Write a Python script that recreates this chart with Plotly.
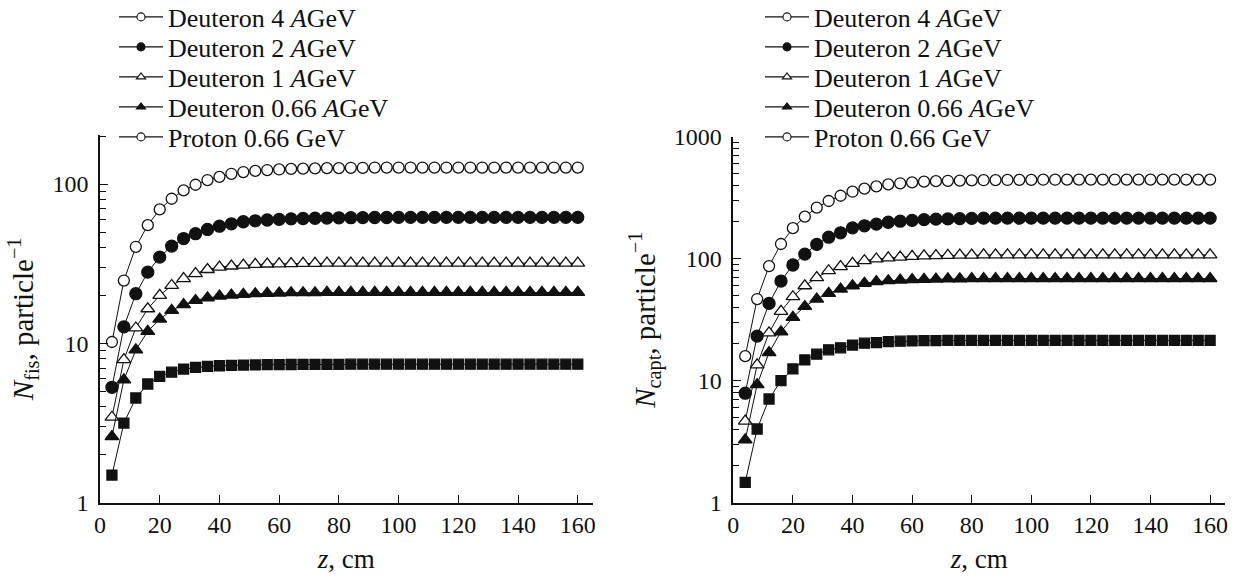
import plotly.graph_objects as go

z = [4 * i for i in range(1, 41)]

# Left panel: N_fis, particle^-1
fis_d4 = [10.2, 24.8, 40.4, 55.2, 69.3, 80.9, 91.2, 99, 106, 111, 116, 119, 121, 122.5, 123.5, 124.5,
          125, 125.5, 126, 126, 126.5, 126.5, 127, 127, 127, 127, 127, 127, 127, 127,
          127, 127, 127, 127, 127, 127, 127, 127, 127, 127]
fis_d2 = [5.3, 12.7, 20.5, 28, 34.8, 40.8, 45.5, 48.8, 51.9, 54.4, 56.3, 58, 58.8, 59.5, 60, 60.5,
          60.8, 61, 61.2, 61.4, 61.5, 61.6, 61.7, 61.7, 61.8, 61.8, 61.8, 61.8, 61.8, 61.8,
          61.8, 61.8, 61.8, 61.8, 61.8, 61.8, 61.8, 61.8, 61.8, 61.8]
fis_d1 = [3.44, 7.9, 12.5, 16.5, 20, 23.1, 25.5, 27.4, 29.1, 30.1, 30.6, 31, 31.3, 31.5, 31.6, 31.7,
          31.8, 31.8, 31.9, 31.9, 31.9, 31.9, 31.9, 31.9, 31.9, 31.9, 31.9, 31.9, 31.9, 31.9,
          31.9, 31.9, 31.9, 31.9, 31.9, 31.9, 31.9, 31.9, 31.9, 31.9]
fis_d066 = [2.6, 5.9, 9.1, 11.9, 14.2, 16.1, 17.5, 18.6, 19.3, 19.8, 20.1, 20.3, 20.5, 20.6, 20.7, 20.8,
            20.8, 20.8, 20.9, 20.9, 20.9, 20.9, 20.9, 20.9, 20.9, 20.9, 20.9, 20.9, 20.9, 20.9,
            20.9, 20.9, 20.9, 20.9, 20.9, 20.9, 20.9, 20.9, 20.9, 20.9]
fis_p066 = [1.49, 3.16, 4.54, 5.56, 6.2, 6.6, 6.9, 7.06, 7.17, 7.24, 7.28, 7.31, 7.33, 7.35, 7.36, 7.37,
            7.38, 7.38, 7.39, 7.39, 7.4, 7.4, 7.4, 7.4, 7.4, 7.4, 7.4, 7.4, 7.4, 7.4,
            7.4, 7.4, 7.4, 7.4, 7.4, 7.4, 7.4, 7.4, 7.4, 7.4]

# Right panel: N_capt, particle^-1
capt_d4 = [15.9, 46.7, 87, 132, 178, 221, 262, 297, 328, 354, 375, 392, 407, 415, 422, 428,
           432, 435, 437, 439, 440, 441, 442, 443, 443, 444, 444, 445, 445, 445,
           445, 445, 445, 445, 445, 445, 445, 445, 445, 445]
capt_d2 = [7.9, 23.2, 43, 65.6, 88.8, 109, 131, 150, 163, 179, 186, 192, 199, 203, 206, 209,
           211, 212, 213, 214, 215, 215, 215, 215, 215, 215, 215, 215, 215, 215,
           215, 215, 215, 215, 215, 215, 215, 215, 215, 215]
capt_d1 = [4.67, 13.5, 24.7, 37, 48.8, 60, 69.9, 79.7, 86, 91.6, 96.3, 99.5, 101.5, 103, 104.5, 105.5,
           106, 106.5, 107, 107, 107.5, 107.5, 107.5, 107.5, 107.5, 107.5, 107.5, 107.5, 107.5, 107.5,
           107.5, 107.5, 107.5, 107.5, 107.5, 107.5, 107.5, 107.5, 107.5, 107.5]
capt_d066 = [3.27, 9.3, 17, 25.2, 33.1, 40.6, 46.7, 52, 56.4, 60, 62.9, 64.8, 66, 66.8, 67.4, 67.8,
             68.1, 68.3, 68.5, 68.6, 68.7, 68.7, 68.7, 68.7, 68.7, 68.7, 68.7, 68.7, 68.7, 68.7,
             68.7, 68.7, 68.7, 68.7, 68.7, 68.7, 68.7, 68.7, 68.7, 68.7]
capt_p066 = [1.47, 4.02, 7.08, 10, 12.5, 14.8, 16.5, 17.9, 18.6, 19.6, 20.3, 20.5, 20.9, 21.1, 21.2, 21.3,
             21.3, 21.4, 21.4, 21.4, 21.4, 21.4, 21.4, 21.4, 21.4, 21.4, 21.4, 21.4, 21.4, 21.4,
             21.4, 21.4, 21.4, 21.4, 21.4, 21.4, 21.4, 21.4, 21.4, 21.4]

legend_names = ["Deuteron 4 <i>A</i>GeV", "Deuteron 2 <i>A</i>GeV", "Deuteron 1 <i>A</i>GeV",
                "Deuteron 0.66 <i>A</i>GeV", "Proton 0.66 GeV"]
x_ticks = [0, 20, 40, 60, 80, 100, 120, 140, 160]

FONT = "Liberation Serif, Times New Roman, serif"
BLACK = "#111111"
W, H = 1237, 576


def px_x(p):
    return p / W


def px_y(p):
    return 1 - p / H


styles = [
    dict(symbol="circle", size=11, fill="white"),
    dict(symbol="circle", size=12, fill=BLACK),
    dict(symbol="triangle-up", size=12, fill="white"),
    dict(symbol="triangle-up", size=12, fill=BLACK),
    dict(symbol="square", size=10, fill=BLACK),
]
legend_styles = [
    dict(symbol="circle", fill="white"),
    dict(symbol="circle", fill=BLACK),
    dict(symbol="triangle-up", fill="white"),
    dict(symbol="triangle-up", fill=BLACK),
    dict(symbol="circle", fill="white"),
]
legend_rows_px = [17, 47, 77, 107, 137]

fig = go.Figure()

panels = [
    ("x", "y", 0, [fis_d4, fis_d2, fis_d1, fis_d066, fis_p066], 114),
    ("x2", "y2", 5, [capt_d4, capt_d2, capt_d1, capt_d066, capt_p066], 760),
]

legend_layouts = {}
for xa, ya, offset, series, legx in panels:
    for vals, st in zip(series, styles):
        fig.add_trace(go.Scatter(
            x=z, y=vals, xaxis=xa, yaxis=ya, mode="lines+markers", showlegend=False,
            line=dict(color=BLACK, width=1),
            marker=dict(symbol=st["symbol"], size=st["size"], color=st["fill"],
                        line=dict(color=BLACK, width=1.3)),
        ))
    for i, (name, ls, row) in enumerate(zip(legend_names, legend_styles, legend_rows_px)):
        k = offset + i + 1
        lname = "legend" if k == 1 else f"legend{k}"
        fig.add_trace(go.Scatter(
            x=[None], y=[None], xaxis=xa, yaxis=ya, mode="lines+markers", name=name,
            legend=lname, line=dict(color=BLACK, width=1.2),
            marker=dict(symbol=ls["symbol"], size=8, color=ls["fill"],
                        line=dict(color=BLACK, width=1.1)),
        ))
        legend_layouts[lname] = dict(
            x=px_x(legx), y=px_y(row), xanchor="left", yanchor="middle",
            bgcolor="rgba(0,0,0,0)", borderwidth=0, itemwidth=44,
            font=dict(family=FONT, size=26, color=BLACK),
        )

axis_common = dict(
    showline=True, linecolor=BLACK, linewidth=1.5, mirror=False,
    ticks="inside", ticklen=8, tickwidth=1.2, tickcolor=BLACK,
    showgrid=False, zeroline=False, automargin=False,
    tickfont=dict(family=FONT, size=24, color=BLACK),
)

xcommon = dict(axis_common, range=[0, 165], tickvals=x_ticks,
               title=dict(text="<i>z</i>, cm", font=dict(family=FONT, size=27, color=BLACK), standoff=12))

minor = dict(ticks="inside", ticklen=6, tickwidth=1, tickcolor=BLACK, dtick="D1", showgrid=False)

fig.update_layout(
    width=W, height=H,
    margin=dict(l=0, r=0, t=0, b=0, autoexpand=False),
    paper_bgcolor="white", plot_bgcolor="white",
    font=dict(family=FONT, size=24, color=BLACK),
    xaxis=dict(xcommon, domain=[px_x(100), px_x(592.7)], anchor="y"),
    xaxis2=dict(xcommon, domain=[px_x(733.3), px_x(1225)], anchor="y2"),
    yaxis=dict(axis_common, type="log", range=[0, 2.308], domain=[px_y(502.7), px_y(135)], anchor="x",
               tickvals=[1, 10, 100], ticktext=["1", "10", "100"], minor=minor, ticklabelstandoff=5,
               title=dict(text="<i>N</i><sub>fis</sub>, particle<sup>\u22121</sup>",
                          font=dict(family=FONT, size=29, color=BLACK), standoff=10)),
    yaxis2=dict(axis_common, type="log", range=[0, 3.0], domain=[px_y(502.7), px_y(136.7)], anchor="x2",
                tickvals=[1, 10, 100, 1000], ticktext=["1", "10", "100", "1000"], minor=minor,
                ticklabelstandoff=5,
                title=dict(text="<i>N</i><sub>capt</sub>, particle<sup>\u22121</sup>",
                           font=dict(family=FONT, size=29, color=BLACK), standoff=10)),
    **legend_layouts,
)

fig.write_html("out.html", config={"displayModeBar": False},
               post_script="document.body.style.margin='0';")
